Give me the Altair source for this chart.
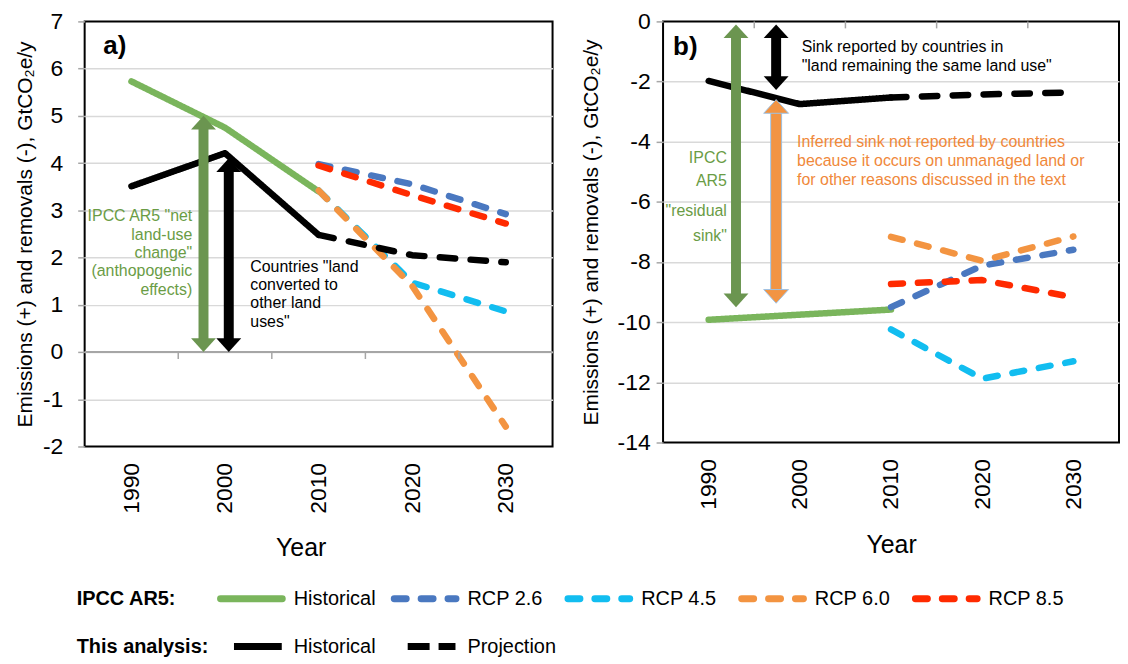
import altair as alt
import pandas as pd

# ---------------- data ----------------
hist_years = [1990, 2000, 2010]
proj_years = [2010, 2020, 2030]
axis_years = [1990, 2000, 2010, 2020, 2030]
tick_years = [1995, 2005, 2015, 2025]

series_names = ["AR5 Historical", "RCP 2.6", "RCP 4.5", "RCP 6.0", "RCP 8.5", "Historical", "Projection"]
series_colors = ["#7ab55c", "#4a78c0", "#12bdf0", "#f39441", "#ff2a00", "#000000", "#000000"]
series_dashes = [[1, 0], [12, 15], [12, 15], [12, 15], [12, 15], [1, 0], [15.5, 15.5]]

# panel a) land converted to other land uses
a_ar5_hist = [5.73, 4.75, 3.40]
a_rcp26 = [3.98, 3.55, 2.92]
a_rcp45 = [3.42, 1.47, 0.86]
a_rcp60 = [3.42, 1.40, -1.58]
a_rcp85 = [3.95, 3.32, 2.72]
a_this_hist = [3.51, 4.21, 2.48]
a_this_proj = [2.48, 2.05, 1.90]

# panel b) land remaining the same land use
b_ar5_hist = [-9.92, -9.75, -9.58]
b_rcp26 = [-9.50, -8.12, -7.59]
b_rcp45 = [-10.24, -11.88, -11.30]
b_rcp60 = [-7.16, -7.96, -7.15]
b_rcp85 = [-8.73, -8.60, -9.17]
b_this_hist = [-1.98, -2.75, -2.53]
b_this_proj = [-2.53, -2.43, -2.36]

a_yticks = [-2, -1, 0, 1, 2, 3, 4, 5, 6, 7]
b_yticks = [-14, -12, -10, -8, -6, -4, -2, 0]

# annotation arrows
a_arrow_year = [1997.7, 2000.4]
a_arrow_top = [5.0, 4.1]
a_arrow_bottom = [0.0, 0.0]
a_arrow_color = ["#6b9550", "#000000"]
a_arrow_outline = ["transparent", "transparent"]

b_arrow_year = [1993.0, 1997.4, 1997.4]
b_arrow_top = [-0.1, -0.1, -2.6]
b_arrow_bottom = [-9.5, -2.28, -9.37]
b_arrow_color = ["#6b9550", "#000000", "#f29443"]
b_arrow_outline = ["transparent", "transparent", "#9dc3e6"]

# annotation texts
a_tag = ["a)"]
a_tag_year = [1987.0]
a_tag_value = [6.47]
a_green_text = ['IPCC AR5 "net', 'land-use', 'change"', '(anthopogenic', 'effects)']
a_green_year = [1996.5] * 5
a_green_value = [2.875, 2.48, 2.09, 1.71, 1.31]
a_black_text = ['Countries "land', 'converted to', 'other land', 'uses"']
a_black_year = [2002.7] * 4
a_black_value = [1.81, 1.41, 1.03, 0.64]

b_tag = ["b)"]
b_tag_year = [1986.1]
b_tag_value = [-0.86]
b_green_text = ["IPCC", "AR5", '"residual', 'sink"']
b_green_year = [1992.0] * 4
b_green_value = [-4.54, -5.30, -6.29, -7.15]
b_black_text = ["Sink reported by countries in", '"land remaining the same land use"']
b_black_year = [2000.2] * 2
b_black_value = [-0.86, -1.48]
b_orange_text = ["Inferred sink not reported by countries",
                 "because it occurs on unmanaged land or",
                 "for other reasons discussed in the text"]
b_orange_year = [1999.7] * 3
b_orange_value = [-4.0, -4.65, -5.27]

# legend entries
legend_titles = ["IPCC AR5:", "This analysis:"]
legend_title_rows = [0, 1]
legend_series = series_names
legend_labels = ["Historical", "RCP 2.6", "RCP 4.5", "RCP 6.0", "RCP 8.5", "Historical", "Projection"]
legend_rows = [0, 0, 0, 0, 0, 1, 1]
legend_cols = [0, 1, 2, 3, 4, 0, 1]

YTITLE = "Emissions (+) and removals (-), GtCO\u2082e/y"
UP_HEAD = "M0,0L1,1.1L-1,1.1Z"
DOWN_HEAD = "M0,0L1,-1.1L-1,-1.1Z"

COLOR_SCALE = alt.Scale(domain=series_names, range=series_colors)
DASH_SCALE = alt.Scale(domain=series_names, range=series_dashes)


def lines_frame(series_values):
    rows = []
    for name, yrs, vals in series_values:
        for y, v in zip(yrs, vals):
            rows.append({"series": name, "year": y, "value": v})
    return pd.DataFrame(rows)


a_lines = lines_frame([
    ("AR5 Historical", hist_years, a_ar5_hist),
    ("RCP 2.6", proj_years, a_rcp26),
    ("RCP 4.5", proj_years, a_rcp45),
    ("RCP 6.0", proj_years, a_rcp60),
    ("RCP 8.5", proj_years, a_rcp85),
    ("Historical", hist_years, a_this_hist),
    ("Projection", proj_years, a_this_proj),
])
b_lines = lines_frame([
    ("AR5 Historical", hist_years, b_ar5_hist),
    ("RCP 2.6", proj_years, b_rcp26),
    ("RCP 4.5", proj_years, b_rcp45),
    ("RCP 6.0", proj_years, b_rcp60),
    ("RCP 8.5", proj_years, b_rcp85),
    ("Historical", hist_years, b_this_hist),
    ("Projection", proj_years, b_this_proj),
])


def build_panel(lines, arrows, texts, ydom, yvals, ylabpad, ytitlepad, width, height, year_title_x, zero_line):
    xscale = alt.Scale(domain=[1985, 2035], nice=False, zero=False)
    yscale = alt.Scale(domain=ydom, nice=False, zero=False)
    xaxis = alt.Axis(values=axis_years, format="d", labelAngle=270, labelFontSize=23,
                     labelPadding=16, ticks=False, tickSize=0, domain=False, grid=False,
                     title="Year", titleFontSize=25, titleFontWeight="normal",
                     titleX=year_title_x, titleY=90, labelFlush=False)
    edge_test = f"datum.value >= {ydom[1]} || datum.value <= {ydom[0]}"
    yaxis = alt.Axis(values=yvals, labelExpr="'' + datum.value",
                     title=YTITLE, titleFontSize=21, titlePadding=ytitlepad,
                     titleFontWeight="normal", labelFontSize=23, labelPadding=ylabpad,
                     tickSize=7, tickColor="#a6a6a6", tickWidth=1.5, domain=False,
                     grid=True, gridColor="#d9d9d9", gridWidth=1.5,
                     gridOpacity={"condition": {"test": edge_test, "value": 0}, "value": 1})

    layers = []
    base_lines = alt.Chart(lines).mark_line(strokeWidth=6.5, strokeCap="round", strokeJoin="round").encode(
        x=alt.X("year:Q", scale=xscale, axis=xaxis),
        y=alt.Y("value:Q", scale=yscale, axis=yaxis),
        color=alt.Color("series:N", scale=COLOR_SCALE, legend=None),
        strokeDash=alt.StrokeDash("series:N", scale=DASH_SCALE, legend=None),
    )
    if zero_line:
        zero = alt.Chart(pd.DataFrame({"value": [0]})).mark_rule(color="#a6a6a6", strokeWidth=2).encode(
            y=alt.Y("value:Q"))
        layers.append(zero)
    ticks = alt.Chart(pd.DataFrame({"year": tick_years, "value": [0] * len(tick_years)})).mark_rule(
        color="#a6a6a6", strokeWidth=1.5, y2Offset=7).encode(
        x=alt.X("year:Q"), y=alt.Y("value:Q"), y2=alt.Y2("value"))
    layers.append(base_lines)
    layers.append(ticks)

    outline = alt.Chart(arrows).mark_rule(strokeWidth=12, yOffset=11, y2Offset=-11).encode(
        x="year:Q", y="value:Q", y2=alt.Y2("bottom"), stroke=alt.Stroke("outline:N", scale=None))
    shaft = alt.Chart(arrows).mark_rule(strokeWidth=10, yOffset=11, y2Offset=-11).encode(
        x="year:Q", y="value:Q", y2=alt.Y2("bottom"), stroke=alt.Stroke("color:N", scale=None))
    up = alt.Chart(arrows).mark_point(shape=UP_HEAD, size=625, filled=True, opacity=1, strokeWidth=1).encode(
        x="year:Q", y="value:Q", fill=alt.Fill("color:N", scale=None), stroke=alt.Stroke("outline:N", scale=None))
    down = alt.Chart(arrows).mark_point(shape=DOWN_HEAD, size=625, filled=True, opacity=1, strokeWidth=1).encode(
        x="year:Q", y="bottom:Q", fill=alt.Fill("color:N", scale=None), stroke=alt.Stroke("outline:N", scale=None))
    layers += [outline, shaft, up, down]

    for df, color, size, align, weight in texts:
        layers.append(alt.Chart(df).mark_text(align=align, baseline="middle", fontSize=size,
                                              color=color, fontWeight=weight).encode(
            x="year:Q", y="value:Q", text="t:N"))
    return alt.layer(*layers).properties(width=width, height=height)


def arrows_frame(yrs, tops, bottoms, colors, outlines):
    return pd.DataFrame({"year": yrs, "value": tops, "bottom": bottoms, "color": colors, "outline": outlines})


def text_frame(texts, yrs, vals):
    return pd.DataFrame({"t": texts, "year": yrs, "value": vals})


panel_a = build_panel(
    a_lines,
    arrows_frame(a_arrow_year, a_arrow_top, a_arrow_bottom, a_arrow_color, a_arrow_outline),
    [
        (text_frame(a_tag, a_tag_year, a_tag_value), "black", 26, "left", "bold"),
        (text_frame(a_green_text, a_green_year, a_green_value), "#6a9c45", 16, "right", "normal"),
        (text_frame(a_black_text, a_black_year, a_black_value), "black", 16, "left", "normal"),
    ],
    [-2, 7], a_yticks, 15, 7, 470, 427, 217, True)

panel_b = build_panel(
    b_lines,
    arrows_frame(b_arrow_year, b_arrow_top, b_arrow_bottom, b_arrow_color, b_arrow_outline),
    [
        (text_frame(b_tag, b_tag_year, b_tag_value), "black", 26, "left", "bold"),
        (text_frame(b_green_text, b_green_year, b_green_value), "#6a9c45", 16, "right", "normal"),
        (text_frame(b_black_text, b_black_year, b_black_value), "black", 16, "left", "normal"),
        (text_frame(b_orange_text, b_orange_year, b_orange_value), "#f0883a", 16, "left", "normal"),
    ],
    [-14, 0], b_yticks, 6, 16, 458, 423, 229, False)

# ---------------- legend block ----------------
legend_df = pd.DataFrame({"series": legend_series, "label": legend_labels,
                          "row": legend_rows, "col": legend_cols})
legend_title_df = pd.DataFrame({"t": legend_titles, "row": legend_title_rows})

lx = alt.X("col:Q", scale=alt.Scale(domain=[0, 4], range=[133, 831]), axis=None)
ly = alt.Y("row:Q", scale=alt.Scale(domain=[0, 1], range=[0, 48]), axis=None)

leg_base = alt.Chart(legend_df)
leg_row1 = leg_base.transform_filter("datum.row == 0").mark_rule(
    strokeWidth=7, strokeCap="round", xOffset=3.5, x2Offset=65.5).encode(
    x=lx, x2=alt.X2("col"), y=ly,
    color=alt.Color("series:N", scale=COLOR_SCALE, legend=None),
    strokeDash=alt.StrokeDash("series:N", scale=DASH_SCALE, legend=None))
leg_hist = leg_base.transform_filter("datum.series == 'Historical'").mark_rule(
    strokeWidth=7, strokeCap="butt", xOffset=17, x2Offset=65, color="black").encode(
    x=lx, x2=alt.X2("col"), y=ly)
leg_proj = leg_base.transform_filter("datum.series == 'Projection'").mark_rule(
    strokeWidth=7, strokeCap="butt", xOffset=17, x2Offset=65, color="black", strokeDash=[22, 9]).encode(
    x=lx, x2=alt.X2("col"), y=ly)
leg_labels = leg_base.mark_text(align="left", baseline="middle", dx=77, fontSize=20, color="black").encode(
    x=lx, y=ly, text="label:N")
leg_titles = alt.Chart(legend_title_df).mark_text(
    align="left", baseline="middle", fontSize=20, fontWeight="bold", color="black").encode(
    x=alt.value(-8), y=ly, text="t:N")

legend_block = alt.layer(leg_row1, leg_hist, leg_proj, leg_labels, leg_titles).properties(
    width=1000, height=48, view=alt.ViewBackground(strokeOpacity=0))

top = alt.hconcat(panel_a, panel_b, spacing=24).resolve_scale(
    x="independent", y="independent", color="shared", strokeDash="shared")

chart = alt.vconcat(top, legend_block, spacing=27).resolve_scale(
    x="independent", y="independent", color="shared", strokeDash="shared"
).properties(
    padding={"left": 5, "top": 0, "right": 0, "bottom": 0}
).configure(
    font="Liberation Sans"
).configure_view(
    stroke="black", strokeWidth=2
).configure_axis(
    labelColor="black", titleColor="black"
)

chart.save("out.html", embed_options={"renderer": "svg", "actions": False})
